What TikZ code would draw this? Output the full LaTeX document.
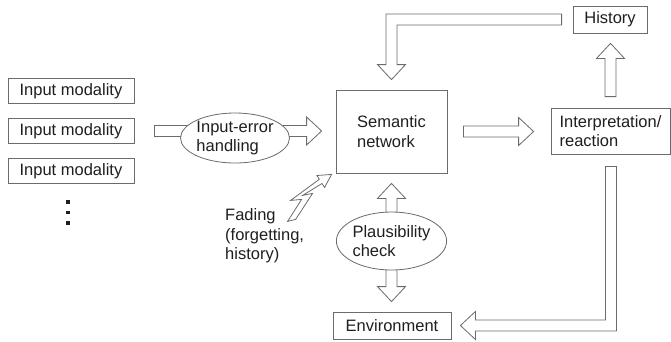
\documentclass[tikz,border=0pt]{standalone}
\usepackage{fontspec}
\setmainfont{Liberation Sans}
\usetikzlibrary{calc,shapes.geometric}
\pgfdeclarelayer{background}
\pgfsetlayers{background,main}
\definecolor{lc}{gray}{0.42}
\definecolor{tc}{gray}{0.12}
\def\aw{5.5pt}\def\hw{14pt}\def\hl{15pt}
% horizontal hollow arrow from #1 to #2
\newcommand\hblock[2]{\draw[blk] let \p1=(#1), \p2=(#2), \n1={sign(\x2-(\x1))} in
  (\x1,{\y1+\aw}) -- ({\x2-(\n1)*\hl},{\y1+\aw}) -- ({\x2-(\n1)*\hl},{\y1+\hw}) -- (\x2,\y1)
  -- ({\x2-(\n1)*\hl},{\y1-\hw}) -- ({\x2-(\n1)*\hl},{\y1-\aw}) -- (\x1,{\y1-\aw}) -- cycle;}
% vertical hollow arrow from #1 to #2
\newcommand\vblock[2]{\draw[blk] let \p1=(#1), \p2=(#2), \n1={sign(\y2-(\y1))} in
  ({\x1-\aw},\y1) -- ({\x1-\aw},{\y2-(\n1)*\hl}) -- ({\x1-\hw},{\y2-(\n1)*\hl}) -- (\x1,\y2)
  -- ({\x1+\hw},{\y2-(\n1)*\hl}) -- ({\x1+\aw},{\y2-(\n1)*\hl}) -- ({\x1+\aw},\y1) -- cycle;}
\begin{document}
\begin{tikzpicture}[x=1pt,y=-1pt, font=\fontsize{16.5}{19.5}\selectfont, text=tc,
  box/.style={draw=lc, line width=0.8pt, fill=white, inner sep=0pt, align=left},
  ell/.style={ellipse, draw=lc, line width=0.8pt, fill=white, inner sep=0pt, align=left},
  blk/.style={draw=lc, line width=0.8pt, fill=white, line join=miter},
  dot/.style={rectangle, fill=tc, minimum width=3.6pt, minimum height=3.8pt, inner sep=0pt}]
\useasboundingbox (0,0) rectangle (671,341);

% input modalities
\node[box, minimum width=126, minimum height=25] (in1) at (71,91) {Input modality};
\node[box, minimum width=126, minimum height=25] (in2) at (71,131) {Input modality};
\node[box, minimum width=126, minimum height=25] (in3) at (71,171) {Input modality};
\node[dot] (d1) at (68,202) {};
\node[dot] (d2) at (68,212.5) {};
\node[dot] (d3) at (68,223) {};

% main nodes
\node[ell, minimum width=104, minimum height=50] (ie) at (235,138) {Input-error\\handling};
\node[box, minimum width=111, minimum height=83] (sem) at (391.5,131.5) {Semantic\\network};
\node[box, minimum width=119, minimum height=46] (interp) at (610.5,131) {Interpretation/\\reaction};
\node[box, minimum width=74, minimum height=27] (hist) at (610,19.5) {History};
\node[ell, minimum width=103, minimum height=58] (pl) at (391.5,241) {Plausibility\\check};
\node[box, minimum width=118, minimum height=27] (env) at (392,325.5) {Environment};
\node[anchor=west, align=left, inner sep=0pt] (fad) at (225,236) {Fading\\(forgetting,\\history)};

% block arrows (behind the ellipses)
\begin{pgfonlayer}{background}
  \coordinate (a1s) at ($(in2.east)+(20,0)$);
  \coordinate (a1e) at ($(sem.west)+(-14,0)$);
  \hblock{a1s}{a1e}
  \coordinate (a2s) at ($(sem.east)+(16,0)$);
  \coordinate (a2e) at ($(interp.west)+(-17,0)$);
  \hblock{a2s}{a2e}
  \coordinate (a3s) at ($(interp.north)+(0,-11)$);
  \coordinate (a3e) at ($(hist.south)+(0,10)$);
  \vblock{a3s}{a3e}
  \coordinate (a4e) at ($(pl.center |- sem.south)+(0,10)$);
  \vblock{pl.center}{a4e}
  \coordinate (a5e) at ($(pl.center |- env.north)+(0,-10)$);
  \vblock{pl.center}{a5e}
  % History -> Semantic network (bent)
  \coordinate (h1) at ($(hist.west)+(-11,0)$);
  \coordinate (h2) at ($(sem.north)+(0,-10)$);
  \draw[blk] let \p1=(h1), \p2=(h2) in
    (\x1,{\y1+\aw}) -- ({\x2-\aw},{\y1+\aw}) -- ({\x2-\aw},{\y2+\hl}) -- ({\x2-\hw},{\y2+\hl})
    -- (\x2,\y2) -- ({\x2+\hw},{\y2+\hl}) -- ({\x2+\aw},{\y2+\hl}) -- ({\x2+\aw},{\y1-\aw})
    -- (\x1,{\y1-\aw}) -- cycle;
  % Interpretation -> Environment (bent)
  \coordinate (e1) at ($(interp.south)+(0.5,12)$);
  \coordinate (e2) at ($(env.east)+(9,0)$);
  \draw[blk] let \p1=(e1), \p2=(e2) in
    ({\x1-\aw},\y1) -- ({\x1-\aw},{\y2+\aw}) -- ({\x2+\hl},{\y2+\aw}) -- ({\x2+\hl},{\y2+\hw})
    -- (\x2,\y2) -- ({\x2+\hl},{\y2-\hw}) -- ({\x2+\hl},{\y2-\aw}) -- ({\x1+\aw},{\y2-\aw})
    -- ({\x1+\aw},\y1) -- cycle;
\end{pgfonlayer}

% fading lightning arrow
\coordinate (ftip) at ($(sem.south west)+(-4,1)$);
\draw[blk] (ftip) -- ($(ftip)+(-7,13)$) -- ($(ftip)+(-9.6,9.1)$) -- ($(ftip)+(-29,21)$)
  -- ($(ftip)+(-19,19)$) -- ($(ftip)+(-36,45)$) -- ($(ftip)+(-44,47)$) -- ($(ftip)+(-30,25)$)
  -- ($(ftip)+(-41,26)$) -- ($(ftip)+(-12.3,4.9)$) -- ($(ftip)+(-14.7,1.1)$) -- cycle;
\end{tikzpicture}
\end{document}
